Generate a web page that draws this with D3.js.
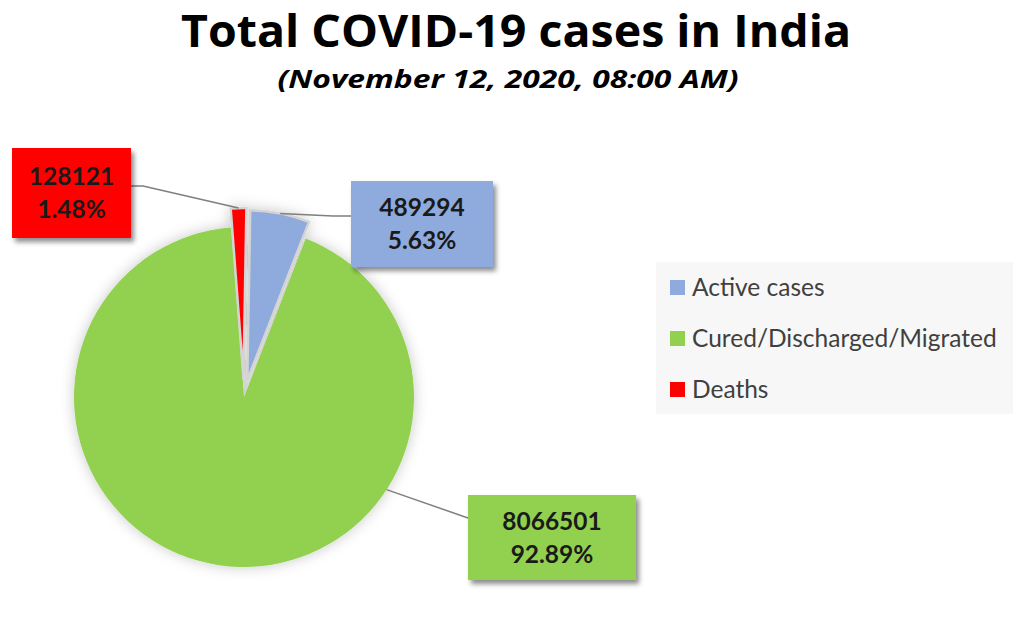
<!DOCTYPE html>
<html>
<head>
<meta charset="utf-8">
<script src="https://cdn.jsdelivr.net/npm/d3@7"></script>
<style>
  html, body { margin: 0; padding: 0; background: #ffffff; }
  svg { display: block; }
</style>
</head>
<body>
<svg id="chart" width="1013" height="624"></svg>
<script>
// ---- data ----
const categories = ["Active cases", "Cured/Discharged/Migrated", "Deaths"];
const values = [489294, 8066501, 128121];
const percentLabels = ["5.63%", "92.89%", "1.48%"];
const colors = ["#8faadc", "#92d050", "#ff0000"];
const titleText = "Total COVID-19 cases in India";
const subtitleText = "(November 12, 2020, 08:00 AM)";

const svg = d3.select("#chart");

// filters
const defs = svg.append("defs");
const fPie = defs.append("filter").attr("id", "pieShadow")
  .attr("x", "-20%").attr("y", "-20%").attr("width", "140%").attr("height", "140%");
fPie.append("feDropShadow").attr("dx", 0).attr("dy", 0).attr("stdDeviation", 7)
  .attr("flood-color", "#000").attr("flood-opacity", 0.22);
const fBox = defs.append("filter").attr("id", "boxShadow")
  .attr("x", "-20%").attr("y", "-20%").attr("width", "150%").attr("height", "150%");
fBox.append("feDropShadow").attr("dx", 3).attr("dy", 4).attr("stdDeviation", 2.5)
  .attr("flood-color", "#000").attr("flood-opacity", 0.45);

// title
svg.append("text")
  .attr("x", 516).attr("y", 47)
  .attr("text-anchor", "middle")
  .style("font-family", "'Open Sans', sans-serif")
  .style("font-weight", 700)
  .style("font-size", "44px")
  .attr("fill", "#000")
  .attr("textLength", 670).attr("lengthAdjust", "spacingAndGlyphs")
  .text(titleText);

svg.append("text")
  .attr("x", 508).attr("y", 88)
  .attr("text-anchor", "middle")
  .style("font-family", "'Open Sans', sans-serif")
  .style("font-weight", 700)
  .style("font-style", "italic")
  .style("font-size", "25px")
  .attr("fill", "#000")
  .attr("textLength", 461).attr("lengthAdjust", "spacingAndGlyphs")
  .text(subtitleText);

// pie
const cx = 244, cy = 397, R = 170;
const startDeg = 1;
const pie = d3.pie().sort(null)
  .startAngle(startDeg * Math.PI / 180)
  .endAngle((360 + startDeg) * Math.PI / 180);
const arcs = pie(values);
const explode = [17, 0, 19];
const arc = d3.arc().innerRadius(0).outerRadius(R);

const g = svg.append("g").attr("transform", `translate(${cx},${cy})`);
const offsets = arcs.map((a, i) => {
  const m = (a.startAngle + a.endAngle) / 2;
  return [Math.sin(m) * explode[i], -Math.cos(m) * explode[i]];
});

const pieG = g.append("g").attr("filter", "url(#pieShadow)");
pieG.selectAll("path.slice").data(arcs).join("path")
  .attr("class", "slice")
  .attr("transform", (d, i) => `translate(${offsets[i][0]},${offsets[i][1]})`)
  .attr("d", arc)
  .attr("fill", (d, i) => colors[i])
  .attr("stroke", "#d4d4d4")
  .attr("stroke-width", (d, i) => i === 1 ? 0 : 2.5)
  .attr("stroke-linejoin", "round");

// label boxes (layout)
const boxes = [
  { x: 351, y: 181, w: 142, h: 86 },   // Active
  { x: 468, y: 495, w: 168, h: 85 },   // Cured
  { x: 12,  y: 148, w: 119, h: 90 }    // Deaths
];
const fmt = d3.format("d");

// leader lines
function arcPoint(i, ang) {
  return [cx + offsets[i][0] + Math.sin(ang) * R, cy + offsets[i][1] - Math.cos(ang) * R];
}
const leaders = arcs.map((a, i) => {
  const mid = (a.startAngle + a.endAngle) / 2;
  if (i === 0) {
    const p = arcPoint(i, mid);
    return [p, [333, 216], [boxes[0].x, 216]];
  } else if (i === 1) {
    const p = arcPoint(i, 123 * Math.PI / 180);
    return [p, [boxes[1].x, 518]];
  } else {
    const p = arcPoint(i, mid);
    return [p, [143, 186], [boxes[2].x + boxes[2].w, 186]];
  }
});
svg.append("g").selectAll("path").data(leaders).join("path")
  .attr("d", d => d3.line()(d))
  .attr("fill", "none")
  .attr("stroke", "#7f7f7f")
  .attr("stroke-width", 1.5);

const lbl = svg.append("g").selectAll("g").data(arcs).join("g");
lbl.append("rect")
  .attr("x", (d, i) => boxes[i].x).attr("y", (d, i) => boxes[i].y)
  .attr("width", (d, i) => boxes[i].w).attr("height", (d, i) => boxes[i].h)
  .attr("fill", (d, i) => colors[i])
  .attr("filter", "url(#boxShadow)");
lbl.append("text")
  .attr("x", (d, i) => boxes[i].x + boxes[i].w / 2)
  .attr("y", (d, i) => boxes[i].y + boxes[i].h / 2 - 8)
  .attr("text-anchor", "middle")
  .style("font-family", "Lato, sans-serif").style("font-weight", 700).style("font-size", "24.5px")
  .attr("fill", "#1a1a1a")
  .text(d => fmt(d.data));
lbl.append("text")
  .attr("x", (d, i) => boxes[i].x + boxes[i].w / 2)
  .attr("y", (d, i) => boxes[i].y + boxes[i].h / 2 + 25)
  .attr("text-anchor", "middle")
  .style("font-family", "Lato, sans-serif").style("font-weight", 700).style("font-size", "24.5px")
  .attr("fill", "#1a1a1a")
  .text((d, i) => percentLabels[i]);

// legend
const lg = svg.append("g");
lg.append("rect").attr("x", 656).attr("y", 262).attr("width", 357).attr("height", 152)
  .attr("fill", "#f7f7f7");
const items = lg.selectAll("g.item").data(categories).join("g").attr("class", "item")
  .attr("transform", (d, i) => `translate(669,${287 + i * 51})`);
items.append("rect").attr("x", 1).attr("y", -7).attr("width", 15).attr("height", 15)
  .attr("fill", (d, i) => colors[i]);
items.append("text").attr("x", 23).attr("y", 8.5)
  .style("font-family", "Lato, sans-serif").style("font-size", "24.5px")
  .attr("fill", "#404040")
  .text(d => d);
</script>
</body>
</html>
